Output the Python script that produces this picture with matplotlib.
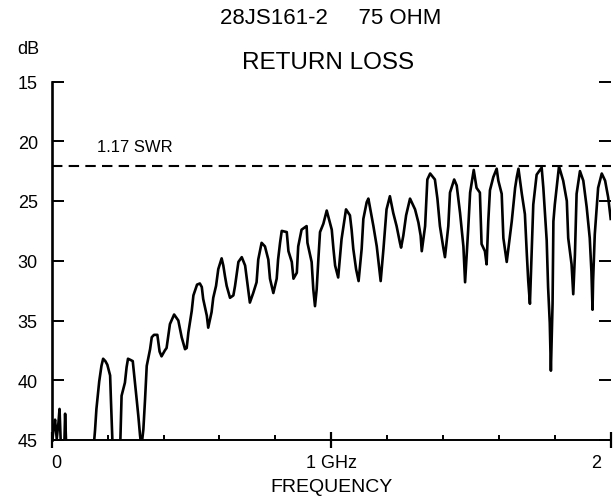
import matplotlib
matplotlib.use('Agg')
import matplotlib.pyplot as plt
from matplotlib.transforms import blended_transform_factory

# ---------------- data ----------------
freq_ghz = [0.000, 0.006, 0.012, 0.018, 0.024, 0.028, 0.033, 0.045, 0.048, 0.052,
            0.150, 0.155, 0.160, 0.170, 0.178, 0.184, 0.192, 0.199, 0.209, 0.212,
            0.218, 0.245, 0.250, 0.262, 0.268, 0.273, 0.282, 0.290, 0.298, 0.304,
            0.310, 0.316, 0.321, 0.328, 0.334, 0.340, 0.352, 0.358, 0.366, 0.378,
            0.386, 0.393, 0.405, 0.411, 0.423, 0.438, 0.453, 0.465, 0.477, 0.483,
            0.489, 0.501, 0.507, 0.520, 0.530, 0.537, 0.542, 0.555, 0.560, 0.572,
            0.578, 0.588, 0.596, 0.608, 0.614, 0.620, 0.626, 0.638, 0.650, 0.656,
            0.668, 0.680, 0.692, 0.698, 0.709, 0.721, 0.733, 0.739, 0.751, 0.763,
            0.775, 0.781, 0.793, 0.805, 0.810, 0.817, 0.823, 0.841, 0.847, 0.859,
            0.865, 0.877, 0.882, 0.894, 0.912, 0.915, 0.930, 0.936, 0.942, 0.948,
            0.954, 0.960, 0.972, 0.984, 1.002, 1.008, 1.014, 1.025, 1.037, 1.053,
            1.067, 1.073, 1.079, 1.089, 1.098, 1.109, 1.115, 1.127, 1.133, 1.151,
            1.163, 1.172, 1.177, 1.187, 1.198, 1.210, 1.222, 1.234, 1.246, 1.250,
            1.258, 1.268, 1.282, 1.300, 1.312, 1.320, 1.324, 1.336, 1.344, 1.354,
            1.371, 1.380, 1.389, 1.401, 1.407, 1.419, 1.425, 1.440, 1.449, 1.461,
            1.473, 1.479, 1.490, 1.497, 1.510, 1.520, 1.532, 1.538, 1.550, 1.556,
            1.562, 1.568, 1.580, 1.592, 1.598, 1.610, 1.616, 1.628, 1.646, 1.658,
            1.664, 1.670, 1.682, 1.693, 1.700, 1.705, 1.711, 1.717, 1.723, 1.735,
            1.753, 1.759, 1.765, 1.771, 1.776, 1.782, 1.786, 1.792, 1.795, 1.800,
            1.815, 1.830, 1.843, 1.848, 1.860, 1.866, 1.872, 1.878, 1.890, 1.902,
            1.914, 1.925, 1.931, 1.935, 1.937, 1.943, 1.955, 1.968, 1.980, 1.991,
            2.000]

return_loss_db = [45.6, 44.2, 43.3, 44.9, 43.6, 42.4, 45.6, 45.6, 42.8, 45.6,
                  45.6, 44.2, 42.4, 40.1, 38.8, 38.2, 38.4, 38.7, 39.6, 41.7,
                  45.6, 45.6, 41.3, 40.2, 38.9, 38.2, 38.3, 38.4, 40.2, 41.6,
                  43.0, 44.6, 45.6, 44.1, 41.6, 38.8, 37.4, 36.4, 36.2, 36.2,
                  37.6, 38.0, 37.5, 37.3, 35.3, 34.5, 35.0, 36.4, 37.4, 37.3,
                  36.0, 34.2, 32.9, 32.0, 31.9, 32.2, 33.2, 34.6, 35.6, 34.3,
                  33.1, 32.1, 30.7, 29.8, 30.4, 31.3, 32.1, 33.1, 32.9, 32.1,
                  30.1, 29.7, 30.4, 31.5, 33.5, 32.7, 31.8, 29.9, 28.5, 28.8,
                  29.9, 31.5, 32.7, 31.5, 29.9, 28.5, 27.5, 27.6, 29.2, 30.1,
                  31.5, 31.0, 28.8, 27.4, 27.1, 28.5, 30.1, 32.4, 33.8, 32.4,
                  29.9, 27.6, 26.9, 25.8, 27.4, 29.0, 30.4, 31.4, 28.2, 25.7,
                  26.2, 27.4, 29.0, 30.7, 31.7, 29.0, 26.5, 25.1, 24.8, 27.1,
                  28.8, 30.7, 31.7, 29.0, 25.7, 24.6, 26.0, 27.1, 28.5, 28.9,
                  27.9, 26.2, 24.8, 25.7, 26.8, 27.9, 29.2, 27.1, 23.2, 22.7,
                  23.2, 24.8, 27.1, 28.9, 29.7, 27.1, 24.3, 23.2, 23.7, 26.0,
                  28.8, 31.8, 27.4, 24.3, 22.4, 23.9, 24.3, 28.6, 29.2, 30.3,
                  26.7, 24.1, 23.0, 22.3, 23.3, 24.4, 28.1, 30.1, 26.7, 23.9,
                  23.0, 22.3, 24.4, 26.1, 29.5, 31.7, 33.6, 29.5, 25.3, 22.8,
                  22.2, 23.9, 26.1, 28.3, 32.2, 35.2, 39.2, 33.6, 26.7, 25.3,
                  22.1, 23.3, 25.0, 28.1, 30.3, 32.8, 29.5, 24.4, 22.5, 23.3,
                  25.5, 28.1, 30.9, 34.1, 31.7, 27.8, 23.9, 22.7, 23.3, 24.7,
                  26.5]

swr_level_db = 22.1
swr_label = "1.17 SWR"
y_ticks = [15, 20, 25, 30, 35, 40, 45]
x_major = [0, 1, 2]
x_tick_labels = ["0", "1 GHz", "2"]
x_minor = [0.2, 0.4, 0.6, 0.8, 1.2, 1.4, 1.6, 1.8]
title_text = "28JS161-2     75 OHM"
subtitle_text = "RETURN LOSS"
x_label = "FREQUENCY"
y_unit = "dB"

# ---------------- figure ----------------
plt.rcParams['font.family'] = ['Liberation Sans', 'DejaVu Sans']
W, H = 613, 502
fig = plt.figure(figsize=(W / 100, H / 100), dpi=100)
x0, x1, yb, yt = 51.7, 610.7, 441.0, 82.5
ax = fig.add_axes([x0 / W, (H - yb) / H, (x1 - x0) / W, (yb - yt) / H])

ax.plot(freq_ghz, return_loss_db, color='black', lw=1.9)
ax.axhline(swr_level_db, color='black', lw=1.5, dashes=(5, 3))

ax.set_xlim(0, 2)
ax.set_ylim(45, 15)

for s in ('top', 'right'):
    ax.spines[s].set_visible(False)
ax.spines['left'].set_linewidth(1.9)
ax.spines['bottom'].set_linewidth(1.4)

ax.set_yticks(y_ticks)
ax.tick_params(axis='y', which='major', direction='in', length=8.5, width=1.4,
               left=True, right=True, labelsize=13, pad=10)

ax.set_xticks(x_major)
ax.set_xticks(x_minor, minor=True)
ax.tick_params(axis='x', which='major', direction='inout', length=12, width=1.6,
               labelbottom=False)
ax.tick_params(axis='x', which='minor', direction='in', length=3.5, width=1.4)

trans = blended_transform_factory(ax.transData, fig.transFigure)
label_x = [0.018, 1.0, 1.948]
for xv, lab in zip(label_x, x_tick_labels):
    ax.text(xv, 1 - 463.5 / H, lab, transform=trans, ha='center', va='center',
            fontsize=13)

fig.text(331 / W, 1 - 487.5 / H, x_label, ha='center', va='center', fontsize=14)
fig.text(17 / W, 1 - 50 / H, y_unit, ha='left', va='center', fontsize=13)
fig.text(331 / W, 1 - 19 / H, title_text, ha='center', va='center', fontsize=16)
fig.text(328 / W, 1 - 63 / H, subtitle_text, ha='center', va='center', fontsize=17.5)

ax.text(0.161, 20.4, swr_label, ha='left', va='center', fontsize=12)

fig.savefig('out.png', dpi=100)
